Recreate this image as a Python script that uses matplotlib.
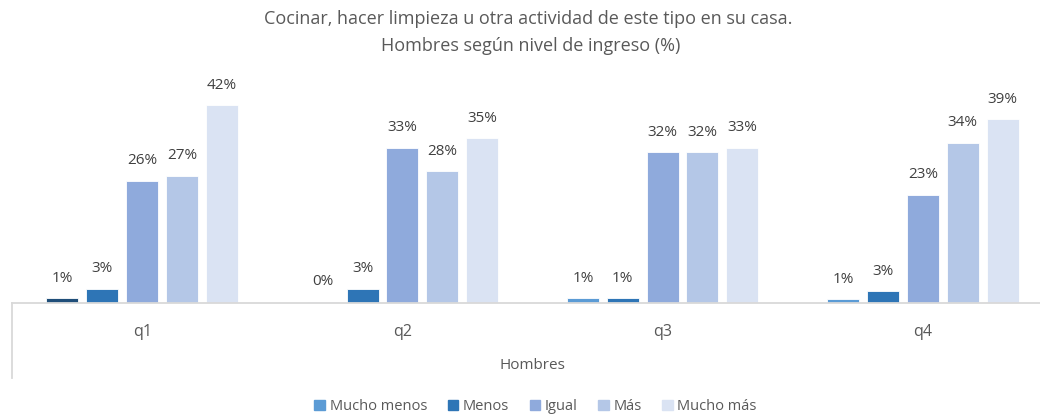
import numpy as np
from matplotlib import pyplot as plt
import matplotlib.transforms as mtransforms

plt.rcParams['font.family'] = ['Open Sans', 'DejaVu Sans']

categorias = ['q1', 'q2', 'q3', 'q4']
series = ['Mucho menos', 'Menos', 'Igual', 'Más', 'Mucho más']
mucho_menos = [1.0, 0.3, 1.0, 0.8]
menos = [3.0, 3.0, 1.0, 2.5]
igual = [26.0, 33.0, 32.0, 23.0]
mas = [27.0, 28.0, 32.0, 34.0]
mucho_mas = [42.0, 35.0, 33.0, 39.0]
etiquetas = [
    ['1%', '0%', '1%', '1%'],
    ['3%', '3%', '1%', '3%'],
    ['26%', '33%', '32%', '23%'],
    ['27%', '28%', '32%', '34%'],
    ['42%', '35%', '33%', '39%'],
]

colores = ['#5B9BD5', '#2E75B6', '#8FAADC', '#B4C7E7', '#DAE3F3']
# q1 "Mucho menos" point is coloured differently in the source
color_q1_mm = '#1F4E79'

valores = [mucho_menos, menos, igual, mas, mucho_mas]

fig = plt.figure(figsize=(10.4, 4.17), dpi=100)
ax = fig.add_axes([12/1040, 114/417, 1041/1040, 212/417])

x = np.arange(len(categorias))
paso = 0.153
ancho = 0.123
for i, (nombre, vals) in enumerate(zip(series, valores)):
    cols = [colores[i]] * len(vals)
    if i == 0:
        cols[0] = color_q1_mm
    pos = x + (i - 2) * paso
    ax.bar(pos, vals, width=ancho, color=cols, edgecolor='white',
           linewidth=0.6, label=nombre)
    for px, v, t in zip(pos, vals, etiquetas[i]):
        ax.annotate(t, (px, v), xytext=(0, 9), textcoords='offset points',
                    ha='center', va='bottom', fontsize=11, color='#404040')

ax.set_xlim(-0.5, 3.5)
ax.set_ylim(0, 45)
for s in ['top', 'right', 'left']:
    ax.spines[s].set_visible(False)
ax.spines['bottom'].set_color('#D9D9D9')
ax.spines['bottom'].set_linewidth(1.3)
ax.set_yticks([])
ax.set_xticks(x)
ax.set_xticklabels(categorias, fontsize=11.5, color='#595959')
ax.tick_params(axis='x', length=0, pad=15)

# outer line of the multi-level category axis
trans = mtransforms.blended_transform_factory(ax.transAxes, ax.transAxes)
ax.plot([0, 0], [0, -0.355], transform=trans, color='#D9D9D9', lw=1.3,
        clip_on=False)
ax.text(0.5, -0.295, 'Hombres', transform=ax.transAxes, ha='center',
        va='center', fontsize=11, color='#595959')

fig.text(0.51, 0.955, 'Cocinar, hacer limpieza u otra actividad de este tipo en su casa. ',
         ha='center', va='center', fontsize=13, color='#595959')
fig.text(0.51, 0.89, 'Hombres según nivel de ingreso (%)',
         ha='center', va='center', fontsize=13, color='#595959')

handles = [plt.Rectangle((0, 0), 1, 1, color=c) for c in colores]
fig.legend(handles, series, loc='center', bbox_to_anchor=(0.515, 0.025),
           ncol=5, frameon=False, fontsize=10.5, handlelength=0.75,
           handleheight=0.75, handletextpad=0.3, columnspacing=1.4,
           labelcolor='#595959')

fig.savefig('out.png', dpi=100)
